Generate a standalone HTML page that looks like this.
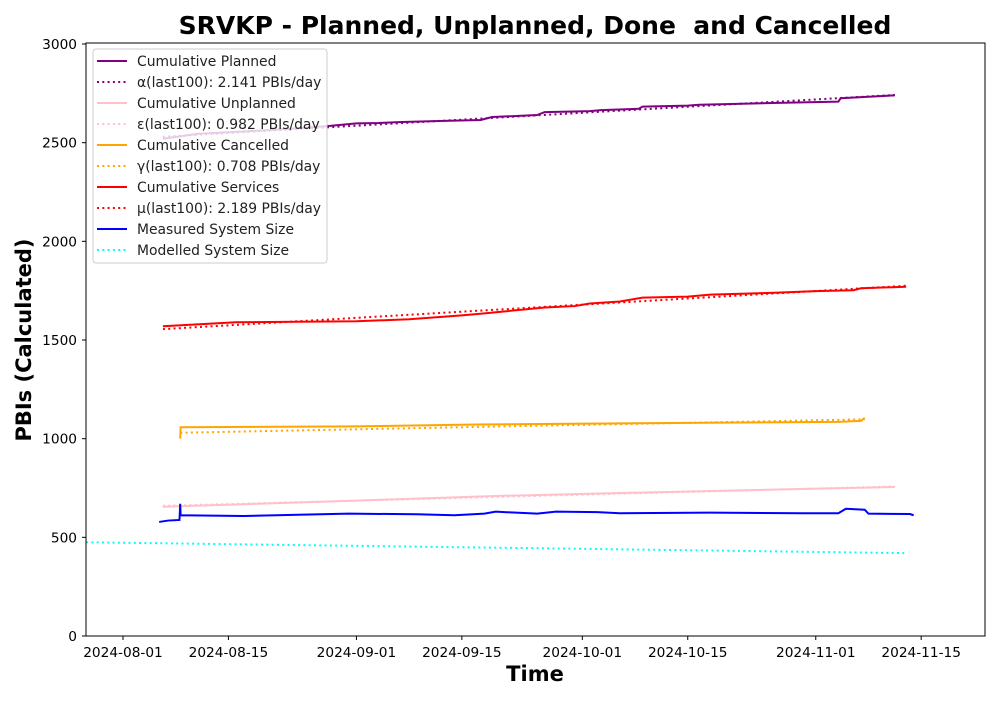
<!DOCTYPE html>
<html><head><meta charset="utf-8"><style>
body{margin:0;background:#fff;}
svg{font-family:"DejaVu Sans","Liberation Sans",sans-serif;}
</style></head><body>
<svg id="chart" width="1000" height="700">
<rect width="1000" height="700" fill="#fff"/>
<text x="535" y="34" font-size="25" font-weight="bold" text-anchor="middle" xml:space="preserve">SRVKP - Planned, Unplanned, Done  and Cancelled</text>
<text transform="translate(31,340) rotate(-90)" font-size="21" font-weight="bold" text-anchor="middle">PBIs (Calculated)</text>
<text x="535" y="681" font-size="21" font-weight="bold" text-anchor="middle">Time</text>
<g id="ticks"></g>
<g id="series"></g>
<rect x="86" y="43" width="899" height="593" fill="none" stroke="#000" stroke-width="1"/>
<g id="legend"></g>
</svg>
<script>
// X axis: days since 2024-08-01
const xTickDays = [0, 14, 31, 45, 61, 75, 92, 106];
const xTickLabels = ["2024-08-01","2024-08-15","2024-09-01","2024-09-15","2024-10-01","2024-10-15","2024-11-01","2024-11-15"];
const yTicks = [0, 500, 1000, 1500, 2000, 2500, 3000];

const plannedDays = [5.3, 10, 20, 27.5, 31, 34, 37, 42, 47.5, 49, 55, 56, 62, 63.5, 68.5, 69, 75, 76.5, 87, 95, 95.3, 102.5];
const plannedVals = [2520, 2545, 2565, 2585, 2598, 2600, 2605, 2610, 2615, 2630, 2640, 2655, 2660, 2665, 2672, 2683, 2688, 2692, 2702, 2708, 2725, 2740];
const plannedFitDays = [5.3, 102.5];
const plannedFitVals = [2530, 2742];

const unplannedDays = [5.3, 30, 50, 70, 90, 102.5];
const unplannedVals = [655, 685, 710, 728, 745, 755];
const unplannedFitDays = [5.3, 102.5];
const unplannedFitVals = [660, 758];

const cancelledDays = [7.6, 7.65, 31, 47, 75, 95, 98, 98.5];
const cancelledVals = [1000, 1058, 1062, 1072, 1080, 1085, 1090, 1105];
const cancelledFitDays = [7.6, 98.5];
const cancelledFitVals = [1030, 1098];

const servicesDays = [5.3, 15, 31, 38, 45, 48, 52, 56, 60, 62, 66, 69, 75, 78, 87, 92, 97, 98, 104];
const servicesVals = [1570, 1590, 1595, 1605, 1625, 1635, 1650, 1665, 1672, 1685, 1695, 1715, 1720, 1730, 1740, 1748, 1752, 1762, 1770];
const servicesFitDays = [5.3, 104];
const servicesFitVals = [1555, 1775];

const measuredDays = [4.8, 6, 7.5, 7.6, 7.65, 16, 24, 30, 39, 44, 48, 49.5, 55, 57.5, 63, 66, 78, 90, 95, 96, 98.5, 99, 104.5, 105];
const measuredVals = [578, 585, 588, 670, 612, 608, 615, 620, 617, 612, 620, 630, 620, 630, 628, 622, 625, 622, 622, 645, 640, 620, 618, 612];

const modelledDays = [-4.9, 104];
const modelledVals = [475, 420];

const legendLabels = ["Cumulative Planned","α(last100): 2.141 PBIs/day","Cumulative Unplanned","ε(last100): 0.982 PBIs/day","Cumulative Cancelled","γ(last100): 0.708 PBIs/day","Cumulative Services","μ(last100): 2.189 PBIs/day","Measured System Size","Modelled System Size"];

const NS = "http://www.w3.org/2000/svg";
function xs(d){ return 123 + d * 7.53; }
function ys(v){ return 636 - v * 0.19733; }
function mk(tag, attrs, parent){ const e=document.createElementNS(NS,tag); for(const k in attrs) e.setAttribute(k,attrs[k]); parent.appendChild(e); return e; }

const ticks = document.getElementById('ticks');
xTickDays.forEach((d,i)=>{
  const t = mk('line',{x1:xs(d),x2:xs(d),y1:636,y2:640,stroke:'#000'},ticks);
  
  
  const l = mk('text',{x:xs(d),y:657,'font-size':13.7,'text-anchor':'middle'},ticks);
  l.textContent = xTickLabels[i];
  
  
});
yTicks.forEach(v=>{
  const t = mk('line',{x1:82,x2:86,y1:ys(v),y2:ys(v),stroke:'#000'},ticks);
  
  
  const l = mk('text',{x:77,y:ys(v)+5,'font-size':13.7,'text-anchor':'end'},ticks);
  l.textContent = v;
  
  
});

const series = document.getElementById('series');
function draw(days, vals, color, dotted, name){
  let pts=[];
  for(let i=0;i<days.length;i++) pts.push(xs(days[i])+','+ys(vals[i]));
  const p = mk('polyline',{points:pts.join(' '),fill:'none',stroke:color,'stroke-width':2},series);
  if(dotted) p.setAttribute('stroke-dasharray','2,3.3');
  
  
}
draw(modelledDays, modelledVals, '#00ffff', true, 'modelled-system-size-line');
draw(unplannedDays, unplannedVals, '#ffc0cb', false, 'cumulative-unplanned-line');
draw(unplannedFitDays, unplannedFitVals, '#ffc0cb', true, 'unplanned-trend-line');
draw(measuredDays, measuredVals, '#0000ff', false, 'measured-system-size-line');
draw(cancelledDays, cancelledVals, '#ffa500', false, 'cumulative-cancelled-line');
draw(cancelledFitDays, cancelledFitVals, '#ffa500', true, 'cancelled-trend-line');
draw(servicesDays, servicesVals, '#ff0000', false, 'cumulative-services-line');
draw(servicesFitDays, servicesFitVals, '#ff0000', true, 'services-trend-line');
draw(plannedDays, plannedVals, '#800080', false, 'cumulative-planned-line');
draw(plannedFitDays, plannedFitVals, '#800080', true, 'planned-trend-line');

const lg = document.getElementById('legend');
const box = mk('rect',{x:93,y:49,width:234,height:214,rx:3,fill:'#fff','fill-opacity':0.8,stroke:'#ccc'},lg);


const lcolors=['#800080','#800080','#ffc0cb','#ffc0cb','#ffa500','#ffa500','#ff0000','#ff0000','#0000ff','#00ffff'];
const ldots=[false,true,false,true,false,true,false,true,false,true];
legendLabels.forEach((lab,i)=>{
  const y = 61 + i*21;
  const ln = mk('line',{x1:97,x2:127,y1:y,y2:y,stroke:lcolors[i],'stroke-width':2},lg);
  if(ldots[i]) ln.setAttribute('stroke-dasharray','2,3.3');
  
  
  const t = mk('text',{x:137,y:y+5,'font-size':13.9,fill:'#222'},lg);
  t.textContent = lab;
  
  
});
</script>
</body></html>
